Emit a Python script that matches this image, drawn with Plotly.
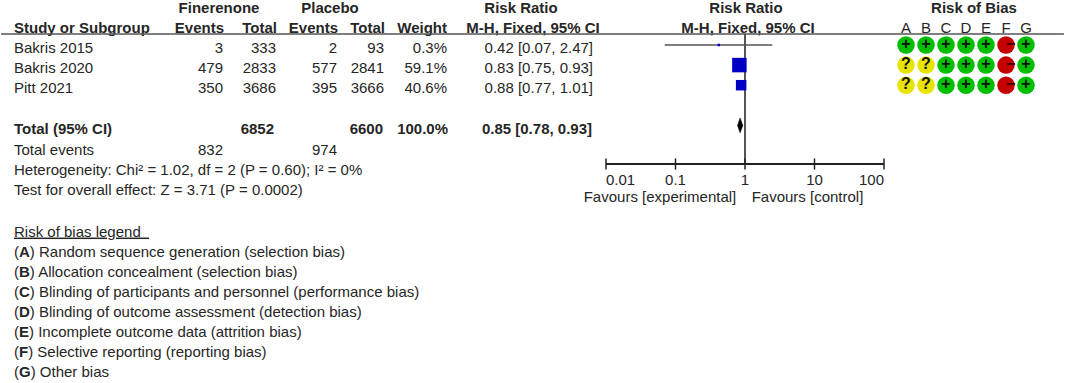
import plotly.graph_objects as go

W, H = 1065, 383

studies = ["Bakris 2015", "Bakris 2020", "Pitt 2021"]
fin_events = [3, 479, 350]
fin_total = [333, 2833, 3686]
pbo_events = [2, 577, 395]
pbo_total = [93, 2841, 3666]
weight = ["0.3%", "59.1%", "40.6%"]
rr = [0.42, 0.83, 0.88]
lo = [0.07, 0.75, 0.77]
hi = [2.47, 0.93, 1.01]
square_sizes = [2.5, 14.5, 10.5]

total_rr, total_lo, total_hi = 0.85, 0.78, 0.93
total_fin, total_pbo, total_weight = 6852, 6600, "100.0%"
events_fin, events_pbo = 832, 974

het_text = "Heterogeneity: Chi² = 1.02, df = 2 (P = 0.60); I² = 0%"
test_text = "Test for overall effect: Z = 3.71 (P = 0.0002)"

rob_letters = ["A", "B", "C", "D", "E", "F", "G"]
rob = [
    ["+", "+", "+", "+", "+", "-", "+"],
    ["?", "?", "+", "+", "+", "-", "+"],
    ["?", "?", "+", "+", "+", "-", "+"],
]
legend_items = [
    ("A", "Random sequence generation (selection bias)"),
    ("B", "Allocation concealment (selection bias)"),
    ("C", "Blinding of participants and personnel (performance bias)"),
    ("D", "Blinding of outcome assessment (detection bias)"),
    ("E", "Incomplete outcome data (attrition bias)"),
    ("F", "Selective reporting (reporting bias)"),
    ("G", "Other bias"),
]
ticks = [0.01, 0.1, 1, 10, 100]
tick_labels = ["0.01", "0.1", "1", "10", "100"]

TXT = "#262626"
LINE = "#555555"
FONT = "Liberation Sans"
FS = 15
ROW = 20.1
Y0 = 9.3
Y0F = 4.8

fig = go.Figure()


def col(x, rows, labels, align="left", bold=False, color=TXT, size=FS):
    pos = {"left": "middle right", "right": "middle left", "center": "middle center"}[align]
    txt = [f"<b>{t}</b>" if bold else str(t) for t in labels]
    fig.add_trace(go.Scatter(x=[x] * len(rows), y=rows, text=txt, mode="text",
                             textposition=pos, cliponaxis=False,
                             textfont=dict(family=FONT, size=size, color=color)))


R = [2, 3, 4]
T = 6
# header
col(219, [0], ["Finerenone"], "center", True)
col(330, [0], ["Placebo"], "center", True)
col(521, [0], ["Risk Ratio"], "center", True)
col(746, [0], ["Risk Ratio"], "center", True)
col(974, [0], ["Risk of Bias"], "center", True)
col(14, [1], ["Study or Subgroup"], "left", True)
col(224, [1], ["Events"], "right", True)
col(277, [1], ["Total"], "right", True)
col(338, [1], ["Events"], "right", True)
col(385, [1], ["Total"], "right", True)
col(447, [1], ["Weight"], "right", True)
col(533, [1], ["M-H, Fixed, 95% CI"], "center", True)
col(748, [1], ["M-H, Fixed, 95% CI"], "center", True)
# rows
col(14, R, studies)
col(223, R, fin_events, "right")
col(276, R, fin_total, "right")
col(337, R, pbo_events, "right")
col(384, R, pbo_total, "right")
col(447, R, weight, "right")
col(593, R, [f"{a:.2f} [{b:.2f}, {c:.2f}]" for a, b, c in zip(rr, lo, hi)], "right")
# totals
col(14, [T], ["Total (95% CI)"], "left", True)
col(274, [T], [total_fin], "right", True)
col(383, [T], [total_pbo], "right", True)
col(448, [T], [total_weight], "right", True)
col(592, [T], [f"{total_rr:.2f} [{total_lo:.2f}, {total_hi:.2f}]"], "right", True)
col(14, [T + 1.07], ["Total events"])
col(223, [T + 1.07], [events_fin], "right")
col(337, [T + 1.07], [events_pbo], "right")
col(14, [T + 2.07], [het_text])
col(14, [T + 3.07], [test_text])
# legend
L0 = 11.12
col(14, [L0], ["<u>Risk of bias legend\u00a0\u00a0</u>"])
col(14, [L0 + 1 + i for i in range(len(legend_items))],
    [f"(<b>{k}</b>) {v}" for k, v in legend_items])
# favours
col(660, [9.4], ["Favours [experimental]"], "center")
col(807.5, [9.4], ["Favours [control]"], "center")

# forest
fx = dict(xaxis="x2", yaxis="y2", cliponaxis=False)
AXIS_ROW = (164 - Y0F) / ROW
fig.add_trace(go.Scatter(x=[1, 1], y=[(34 - Y0F) / ROW, AXIS_ROW], mode="lines",
                         line=dict(color=LINE, width=2), **fx))
for i in range(3):
    fig.add_trace(go.Scatter(x=[lo[i], hi[i]], y=[R[i], R[i]], mode="lines",
                             line=dict(color=LINE, width=1.5), **fx))
fig.add_trace(go.Scatter(x=rr, y=R, mode="markers",
                         marker=dict(symbol="square", size=square_sizes, color="#0000c4",
                                     opacity=1, line=dict(width=0)), **fx))
fig.add_trace(go.Scatter(x=[total_lo, total_rr, total_hi, total_rr, total_lo],
                         y=[T, T - 0.37, T, T + 0.37, T], mode="lines", fill="toself",
                         fillcolor="#000000", line=dict(color="#000000", width=0.5), **fx))
fig.add_trace(go.Scatter(x=ticks, y=[AXIS_ROW] * len(ticks), mode="markers",
                         marker=dict(symbol="line-ns", size=8,
                                     line=dict(color="#222222", width=1.5)), **fx))
# axis labels: outer two sit inside the axis ends, as in the reference
label_pos = ["middle right", "middle center", "middle center", "middle center", "middle left"]
fig.add_trace(go.Scatter(x=ticks, y=[AXIS_ROW + 0.84] * len(ticks), text=tick_labels,
                         mode="text", textposition=label_pos, xaxis="x2", yaxis="y2",
                         cliponaxis=False, textfont=dict(family=FONT, size=FS, color=TXT)))

# risk of bias
col_map = {"+": "#00c000", "?": "#e8e400", "-": "#c40000"}
xs, ys, cs, ts, tp = [], [], [], [], []
for r, row in zip(R, rob):
    for k, v in zip(rob_letters, row):
        xs.append(k); ys.append(r); cs.append(col_map[v])
fig.add_trace(go.Scatter(x=rob_letters, y=[1.0] * 7, text=rob_letters, mode="text",
                         xaxis="x3", yaxis="y", cliponaxis=False,
                         textfont=dict(family=FONT, size=FS, color=TXT)))
fig.add_trace(go.Scatter(x=xs, y=ys, mode="markers", xaxis="x3", yaxis="y2", cliponaxis=False,
                         marker=dict(size=17.5, color=cs, opacity=1, line=dict(width=0))))
for sign, txt, pos, color in [("+", "+", "middle center", "#111111"),
                              ("?", "?", "middle center", "#111111"),
                              ("-", "−", "middle right", "#3a0000")]:
    sx, sy = [], []
    for r, row in zip(R, rob):
        for k, v in zip(rob_letters, row):
            if v == sign:
                sx.append(k); sy.append(r)
    fig.add_trace(go.Scatter(x=sx, y=sy, text=[f"<b>{txt}</b>"] * len(sx), mode="text",
                             textposition=pos, xaxis="x3", yaxis="y2", cliponaxis=False,
                             textfont=dict(family=FONT, size=16, color=color)))

fig.add_shape(type="line", xref="paper", yref="paper", x0=0.001, x1=0.999,
              y0=1 - 34 / H, y1=1 - 34 / H, line=dict(color=LINE, width=1.5))

hidden = dict(visible=False, showgrid=False, zeroline=False, automargin=False)
fig.update_layout(
    width=W, height=H, margin=dict(l=0, r=0, t=0, b=0, pad=0, autoexpand=False), showlegend=False,
    hovermode=False, plot_bgcolor="rgba(0,0,0,0)", paper_bgcolor="white",
    xaxis=dict(range=[0, W], domain=[0, 1], **hidden),
    yaxis=dict(range=[(H - Y0) / ROW, -Y0 / ROW], domain=[0, 1], **hidden),
    xaxis2=dict(type="log", range=[-2, 2], domain=[606 / W, 884 / W], anchor="free",
                position=1 - 164 / H, side="bottom", showgrid=False, automargin=False,
                zeroline=False, showline=True, linecolor="#222222", linewidth=1.5,
                tickmode="array", tickvals=ticks, ticks="", showticklabels=False),
    yaxis2=dict(range=[(H - Y0F) / ROW, -Y0F / ROW], domain=[0, 1],
                anchor="x2", overlaying="y", **hidden),
    xaxis3=dict(type="category", categoryorder="array", categoryarray=rob_letters,
                range=[-0.5, 6.5], domain=[896 / W, 1036 / W], anchor="y2", **hidden),
)
fig.write_html("out.html", config=dict(displayModeBar=False),
               post_script="document.body.style.margin='0';")
